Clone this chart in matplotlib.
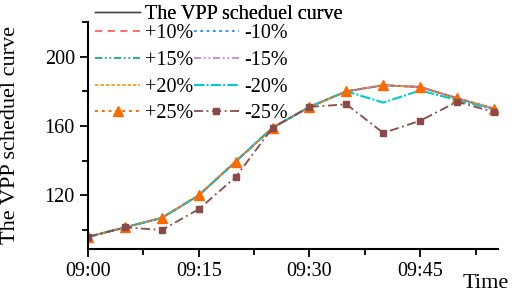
import numpy as np
import matplotlib
matplotlib.use('Agg')
import matplotlib.pyplot as plt
from matplotlib.ticker import MultipleLocator, FuncFormatter

# minutes after 09:00
minutes = [0, 5, 10, 15, 20, 25, 30, 35, 40, 45, 50, 55]
vpp = [96, 101.5, 107, 120, 139.5, 159, 171, 180, 183.5, 182.5, 176, 170]
p10 = [96, 101.5, 107, 120, 139.5, 159, 171, 180, 183.5, 182.5, 176, 170]
p15 = [96, 101.5, 107, 120, 139.5, 159, 171, 180, 183.5, 182.5, 176, 170]
p20 = [96, 101.5, 107, 120, 139.5, 159, 171, 180, 183.5, 182.5, 176, 170]
p25 = [96, 101.5, 107, 120, 139.5, 159, 171, 180, 183.5, 182.5, 176, 170]
m10 = [96, 101.5, 107, 120, 139.5, 159, 171, 180, 183.5, 182.5, 176, 170]
m15 = [96, 101.5, 107, 120, 139.5, 159, 171, 180, 183.5, 182.5, 176, 170]
m20 = [96, 101.5, 107, 120, 139.5, 159, 171, 180, 173.5, 180.5, 175, 169.5]
m25 = [96, 101.5, 100, 112, 130.5, 159, 171, 172.5, 156, 163, 174, 168]

plt.rcParams['font.family'] = ['Liberation Serif', 'DejaVu Serif']
fs = 14.5   # tick labels and legend
fl = 16     # axis titles

fig = plt.figure(figsize=(5.12, 2.93), dpi=100)
ax = fig.add_axes([0.172, 0.15, 0.80, 0.775])

l0, = ax.plot(minutes, vpp, color='#444444', lw=1.0, ls='-')
l1, = ax.plot(minutes, p10, color='#FF6060', lw=1.3, ls=(0, (4, 3)))
l2, = ax.plot(minutes, p15, color='#10B07A', lw=1.3, ls=(0, (4, 1.5, 1, 1.5, 1, 1.5)))
l3, = ax.plot(minutes, p20, color='#E5A81A', lw=1.3, ls=(0, (2, 1)))
l5, = ax.plot(minutes, m10, color='#1E8FEE', lw=1.3, ls=(0, (1.5, 2)))
l6, = ax.plot(minutes, m15, color='#C484EA', lw=1.3, ls=(0, (4, 1.5, 1, 1.5, 1, 1.5)))
l7, = ax.plot(minutes, m20, color='#00CCCC', lw=1.5, ls=(0, (5, 1, 1, 1)))
l4, = ax.plot(minutes, p25, color='#FF6A00', lw=1.4, ls=(0, (1.5, 2)),
              marker='^', ms=7, markeredgecolor='#FF6A00')
l8, = ax.plot(minutes, m25, color='#8B4A4A', lw=1.3, ls=(0, (5, 2, 1, 2)),
              marker='s', ms=5)

ax.set_xlim(0, 55.5)
ax.set_ylim(89, 220)
ax.xaxis.set_major_locator(MultipleLocator(15))
ax.xaxis.set_minor_locator(MultipleLocator(7.5))
ax.yaxis.set_major_locator(MultipleLocator(40))
ax.yaxis.set_minor_locator(MultipleLocator(20))
ax.xaxis.set_major_formatter(FuncFormatter(lambda v, p: '09:%02d' % int(v)))
ax.spines['top'].set_visible(False)
ax.spines['right'].set_visible(False)
ax.spines['left'].set_linewidth(1.5)
ax.spines['bottom'].set_linewidth(1.5)
ax.tick_params(which='major', direction='out', length=6, width=1.3, labelsize=fs)
ax.tick_params(which='minor', direction='out', length=4, width=1.3)
fig.text(11 / 512, 1 - 135 / 293, 'The VPP scheduel curve', rotation=90,
         ha='center', va='center', fontsize=fl)
fig.text(509 / 512, 1 - 283 / 293, 'Time', ha='right', va='center', fontsize=fl)

leg1 = fig.legend([l0], ['The VPP scheduel curve'], loc='upper left',
                  bbox_to_anchor=(95 / 512, 1 - 4.5 / 293), frameon=False, handlelength=2.25,
                  handletextpad=0.25, fontsize=fs, borderaxespad=0, borderpad=0)
fig.add_artist(leg1)
fig.legend([l1, l2, l3, l4, l5, l6, l7, l8],
           ['+10%', '+15%', '+20%', '+25%', '-10%', '-15%', '-20%', '-25%'],
           ncol=2, loc='upper left', bbox_to_anchor=(95 / 512, 1 - 24 / 293), frameon=False,
           handlelength=2.25, handletextpad=0.25, columnspacing=0.0,
           labelspacing=0.38, fontsize=fs, numpoints=1, borderaxespad=0, borderpad=0)

fig.savefig('out.png', dpi=100)
